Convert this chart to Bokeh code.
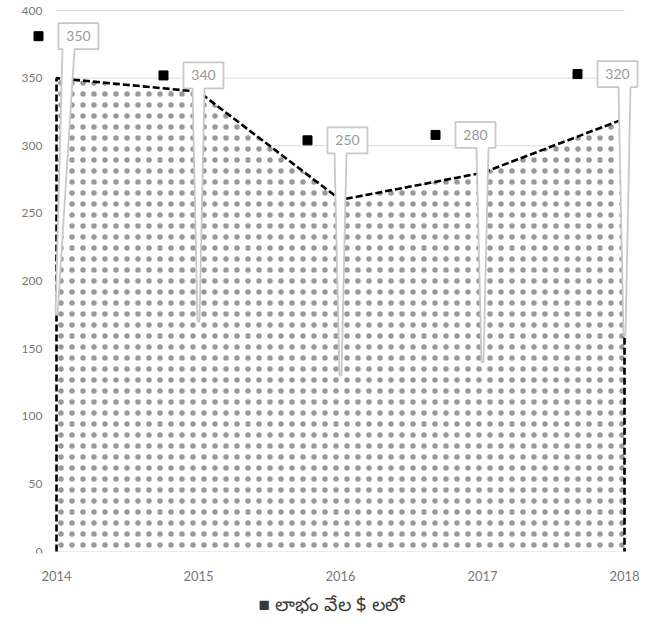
from bokeh.plotting import figure
from bokeh.models import Range1d, FixedTicker
from bokeh.core.properties import value
from bokeh.embed import file_html
from bokeh.resources import INLINE

# ---- data ----
years = [2014, 2015, 2016, 2017, 2018]
profit = [350, 340, 260, 280, 320]
label_texts = ["350", "340", "250", "280", "320"]
y_ticks = [0, 50, 100, 150, 200, 250, 300, 350, 400]
series_name = "లాభం వేల $ లలో"

# ---- callout placement (layout, not data) ----
callout_dx_px = [22, 5, 7, -7, -7]        # box centre offset from point, px
callout_level = [381, 352, 304, 308, 353]  # box centre height, axis units

# ---- geometry (figure sits at 0,0) ----
W, H = 662, 634
LEFT_PX, RIGHT_PX = 56, 624      # pixel positions of first / last year
ZERO_PX, TOP_PX = 551, 10        # pixel positions of 0 and 400
BB = H - (ZERO_PX + 2)
sx = (RIGHT_PX - LEFT_PX) / (years[-1] - years[0])
sy = (ZERO_PX - TOP_PX) / (y_ticks[-1] - y_ticks[0])
X0 = years[0] - LEFT_PX / sx
X1 = years[-1] + (W - RIGHT_PX) / sx
Y0 = -2 / sy
Y1 = y_ticks[-1] + TOP_PX / sy

FONT = "Lato"
GRAY_TXT = "#7a7a7a"
GRID = "#d9d9d9"

p = figure(width=W, height=H,
           x_range=Range1d(X0, X1), y_range=Range1d(Y0, Y1),
           output_backend="svg", toolbar_location=None,
           min_border_left=0, min_border_right=0,
           min_border_top=0, min_border_bottom=BB)
p.outline_line_color = None
p.background_fill_color = "white"
p.border_fill_color = "white"
p.xgrid.grid_line_color = None
p.ygrid.grid_line_color = None
p.yaxis.visible = False

# x axis: tick labels + series legend line underneath
p.xaxis.ticker = FixedTicker(ticks=years)
p.xaxis.axis_line_color = None
p.xaxis.major_tick_line_color = None
p.xaxis.minor_tick_line_color = None
p.xaxis.major_tick_out = 0
p.xaxis.major_tick_in = 0
p.xaxis.major_label_text_font = FONT
p.xaxis.major_label_text_color = GRAY_TXT
p.xaxis.major_label_text_font_size = "13px"
p.xaxis.major_label_standoff = 17
p.xaxis.axis_label = "\u25A0 " + series_name
p.xaxis.axis_label_text_font = "Noto Sans"
p.xaxis.axis_label_text_font_style = "normal"
p.xaxis.axis_label_text_font_size = "19px"
p.xaxis.axis_label_text_color = "#3a3a3a"
p.xaxis.axis_label_standoff = 7

# horizontal gridlines across the plot area, and y tick labels
n = len(y_ticks)
p.segment(x0=[years[0]] * n, x1=[years[-1]] * n, y0=y_ticks, y1=y_ticks,
          line_color=GRID, line_width=1)
p.text(x=[years[0] - 14 / sx] * n, y=y_ticks, text=[str(t) for t in y_ticks],
       text_align="right", text_baseline="middle", text_font=value(FONT),
       text_font_size="12px", text_color=GRAY_TXT)

# area with dotted pattern
p.varea(x=years, y1=[0] * len(years), y2=profit, fill_color="white",
        hatch_pattern="dot", hatch_color="#999999", hatch_scale=11, hatch_weight=0.9)

# dashed outline (left edge, top, right edge)
ox = [years[0]] + years + [years[-1]]
oy = [0] + profit + [0]
p.line(ox, oy, line_color="black", line_width=2.6, line_dash="7 3")

# callouts
xs_list, ys_list, tx, ty, kx, ky = [], [], [], [], [], []
hw, hh = 20 / sx, 13 / sy
for xd, v, dx, lv in zip(years, profit, callout_dx_px, callout_level):
    cx = xd + dx / sx
    cy = lv
    bl_, br_ = cx - hw, cx + hw
    bt, bb = cy + hh, cy - hh
    tl = xd - 6 / sx
    tr = xd + 6 / sx
    if tl < bl_ + 4 / sx:
        tl = bl_ + 4 / sx
        tr = tl + 12 / sx
    if tr > br_ - 4 / sx:
        tr = br_ - 4 / sx
        tl = tr - 12 / sx
    tip = v / 2
    xs_list.append([bl_, br_, br_, tr, xd + 1 / sx, xd - 1 / sx, tl, bl_])
    ys_list.append([bt, bt, bb, bb, tip, tip, bb, bb])
    tx.append(cx)
    ty.append(cy)
    kx.append(bl_ - 20 / sx)
    ky.append(cy)

p.patches(xs_list, ys_list, fill_color="white", line_color="#c8c8c8", line_width=1.8)
p.text(x=tx, y=ty, text=label_texts, text_align="center", text_baseline="middle",
       text_font=value(FONT), text_font_size="14px", text_color="#999999")
p.scatter(x=kx, y=ky, marker="square", size=9, fill_color="black",
          line_color="black", line_width=1)

open("out.html", "w").write(file_html(p, INLINE))
